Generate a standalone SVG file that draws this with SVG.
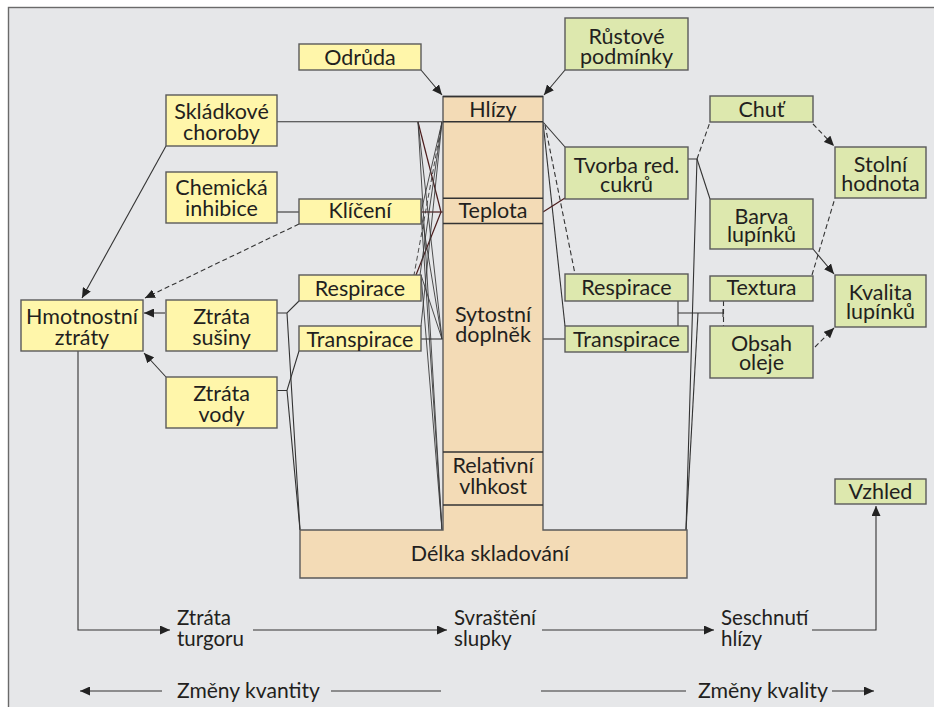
<svg xmlns="http://www.w3.org/2000/svg" width="934" height="707" viewBox="0 0 934 707">
<style>
.y{fill:#fff6aa;stroke:#5a5a5a;stroke-width:1.4}
.g{fill:#dde8ae;stroke:#5a5a5a;stroke-width:1.4}
.t{fill:#f3dbb6;stroke:#5a5a5a;stroke-width:1.4}
text{font-family:Lato,"Open Sans","Liberation Sans",sans-serif;font-size:21.5px;fill:#231f20;text-anchor:middle}
.b{font-size:20.5px;text-anchor:start}
.c{fill:none;stroke:#333;stroke-width:1.1}
.d{fill:none;stroke:#333;stroke-width:1.1;stroke-dasharray:5 3}
.n{fill:none;stroke:#3a3a3a;stroke-width:0.9}
.nd{fill:none;stroke:#3a3a3a;stroke-width:0.9;stroke-dasharray:5 3}
.br{fill:none;stroke:#4b1c1c;stroke-width:1.2}
.sep{stroke:#333;stroke-width:1.4}
</style>
<defs>
<marker id="a" markerUnits="userSpaceOnUse" markerWidth="11" markerHeight="9" refX="10" refY="4.5" orient="auto">
<path d="M0,0 L10,4.5 L0,9 Z" fill="#222"/>
</marker>
</defs>
<rect x="0" y="0" width="934" height="707" fill="#fff"/>
<rect x="8.5" y="7.5" width="940" height="710" fill="#e6e7e9" stroke="#6a6a6a" stroke-width="1.4"/>

<g id="connectors">
<path class="c" d="M421,70 L442,95" marker-end="url(#a)"/>
<path class="c" d="M565,70 L544,95" marker-end="url(#a)"/>
<path class="c" d="M277,121.7 H443"/>
<path class="c" d="M166,146 L82,298" marker-end="url(#a)"/>
<path class="c" d="M277,212 H299"/>
<path class="d" d="M299,224 L145,298" marker-end="url(#a)"/>
<path class="c" d="M165,313 H144" marker-end="url(#a)"/>
<path class="c" d="M166,377 L144,353" marker-end="url(#a)"/>
<path class="c" d="M277,313 H287 L299,301 M287,313 L300,530"/>
<path class="c" d="M277,390.5 H287 L299,351 M287,390.5 L300,530"/>
<path class="br" d="M418,122 L441,212"/>
<path class="br" d="M421,212 H443"/>
<path class="br" d="M441,212 L416,275"/>
<path class="nd" d="M442,122 L414,275"/>
<path class="n" d="M418,122 L442,339"/>
<path class="n" d="M418,122 L442,530"/>
<path class="n" d="M442,122 L421,212"/>
<path class="n" d="M442,122 L421,326"/>
<path class="n" d="M442,122 L420,275"/>
<path class="n" d="M421,212 L442,530"/>
<path class="n" d="M421,212 L442,339"/>
<path class="n" d="M421,275 L442,530"/>
<path class="n" d="M421,275 L442,339"/>
<path class="c" d="M421,339 H443"/>
<path class="c" d="M543,122 L565,147"/>
<path class="c" d="M543,122 L565,326"/>
<path class="d" d="M545,125 L575,274"/>
<path class="br" d="M543,212 L565,198"/>
<path class="c" d="M543,339 H565"/>
<path class="c" d="M688,159 H697 L686,530"/>
<path class="d" d="M697,159 L710,122"/>
<path class="c" d="M697,159 L710,199"/>
<path class="c" d="M678,301 V326 M678,313 H723 M723,309 V317"/>
<path class="c" d="M698,313 L686,530"/>
<path class="d" d="M723.5,301 V326"/>
<path class="d" d="M813,124 L834,146" marker-end="url(#a)"/>
<path class="d" d="M812,275 L835,198"/>
<path class="c" d="M813,249 L834,274" marker-end="url(#a)"/>
<path class="d" d="M815,347 L834,328" marker-end="url(#a)"/>
<path class="c" d="M78,351 V630 H170" marker-end="url(#a)"/>
<path class="c" d="M253,630 H447" marker-end="url(#a)"/>
<path class="c" d="M542,630 H714" marker-end="url(#a)"/>
<path class="c" d="M812,630 H876 V506" marker-end="url(#a)"/>
<path class="c" d="M162,691 H80" marker-end="url(#a)"/>
<path class="c" d="M331,691 H441"/>
<path class="c" d="M541,691 H686"/>
<path class="c" d="M832,691 H874" marker-end="url(#a)"/>
</g>

<g id="column">
<path class="t" d="M443,96.5 H543 V530 H687 V578 H300 V530 H443 Z"/>
<line class="sep" x1="443" y1="96.5" x2="543" y2="96.5"/>
<line class="sep" x1="443" y1="121.7" x2="543" y2="121.7"/>
<line class="sep" x1="443" y1="198.3" x2="543" y2="198.3"/>
<line class="sep" x1="443" y1="223.5" x2="543" y2="223.5"/>
<line class="sep" x1="443" y1="452" x2="543" y2="452"/>
<line class="sep" x1="443" y1="505" x2="543" y2="505"/>
</g>
<g id="hlizy"><text x="493" y="117">Hlízy</text></g>
<g id="teplota"><text x="493" y="218">Teplota</text></g>
<g id="sytostni"><text x="493" y="321.5">Sytostní</text><text x="493" y="342">doplněk</text></g>
<g id="vlhkost"><text x="493" y="473">Relativní</text><text x="493" y="494">vlhkost</text></g>
<g id="delka"><text x="490" y="561">Délka skladování</text></g>

<g id="odruda"><rect class="y" x="299" y="44" width="122" height="26"/><text x="360" y="65">Odrůda</text></g>
<g id="skladkove"><rect class="y" x="166" y="95" width="111" height="51"/><text x="221.5" y="119">Skládkové</text><text x="221.5" y="140">choroby</text></g>
<g id="chemicka"><rect class="y" x="166" y="172" width="111" height="51"/><text x="221.5" y="195">Chemická</text><text x="221.5" y="216">inhibice</text></g>
<g id="kliceni"><rect class="y" x="299" y="199" width="122" height="25"/><text x="360" y="218">Klíčení</text></g>
<g id="hmotnostni"><rect class="y" x="21" y="300" width="122" height="51"/><text x="82" y="324">Hmotnostní</text><text x="82" y="345">ztráty</text></g>
<g id="susiny"><rect class="y" x="166" y="300" width="111" height="51"/><text x="221.5" y="324">Ztráta</text><text x="221.5" y="345">sušiny</text></g>
<g id="vody"><rect class="y" x="166" y="377" width="111" height="51"/><text x="221.5" y="401">Ztráta</text><text x="221.5" y="422">vody</text></g>
<g id="respirace-l"><rect class="y" x="299" y="275" width="122" height="26"/><text x="360" y="295.5">Respirace</text></g>
<g id="transpirace-l"><rect class="y" x="299" y="326" width="122" height="25"/><text x="360" y="346.5">Transpirace</text></g>

<g id="rustove"><rect class="g" x="565" y="18" width="123" height="52"/><text x="626.5" y="44">Růstové</text><text x="626.5" y="63.5">podmínky</text></g>
<g id="tvorba"><rect class="g" x="565" y="147" width="123" height="52"/><text x="626.5" y="172.5">Tvorba red.</text><text x="626.5" y="191.5">cukrů</text></g>
<g id="respirace-r"><rect class="g" x="565" y="274" width="123" height="27"/><text x="626.5" y="295">Respirace</text></g>
<g id="transpirace-r"><rect class="g" x="565" y="326" width="123" height="26"/><text x="626.5" y="346.5">Transpirace</text></g>
<g id="chut"><rect class="g" x="710" y="96" width="103" height="26"/><text x="761.5" y="116.5">Chuť</text></g>
<g id="barva"><rect class="g" x="710" y="199" width="103" height="50"/><text x="761.5" y="223.5">Barva</text><text x="761.5" y="242">lupínků</text></g>
<g id="textura"><rect class="g" x="710" y="276" width="103" height="25"/><text x="761.5" y="295">Textura</text></g>
<g id="obsah"><rect class="g" x="710" y="326" width="103" height="52"/><text x="761.5" y="350.5">Obsah</text><text x="761.5" y="369.5">oleje</text></g>
<g id="stolni"><rect class="g" x="835" y="147" width="91" height="51"/><text x="880.5" y="171.5">Stolní</text><text x="880.5" y="190.5">hodnota</text></g>
<g id="kvalita"><rect class="g" x="835" y="275" width="91" height="52"/><text x="880.5" y="300">Kvalita</text><text x="880.5" y="318.5">lupínků</text></g>
<g id="vzhled"><rect class="g" x="835" y="479" width="91" height="25"/><text x="880.5" y="499">Vzhled</text></g>

<g id="bottom-labels">
<text class="b" x="177" y="625">Ztráta</text><text class="b" x="177" y="646">turgoru</text>
<text class="b" x="454" y="625">Svraštění</text><text class="b" x="454" y="646">slupky</text>
<text class="b" x="721" y="625">Seschnutí</text><text class="b" x="721" y="646">hlízy</text>
<text class="b" x="177" y="698" textLength="143" lengthAdjust="spacingAndGlyphs">Změny kvantity</text>
<text class="b" x="698" y="698" textLength="130" lengthAdjust="spacingAndGlyphs">Změny kvality</text>
</g>
</svg>
